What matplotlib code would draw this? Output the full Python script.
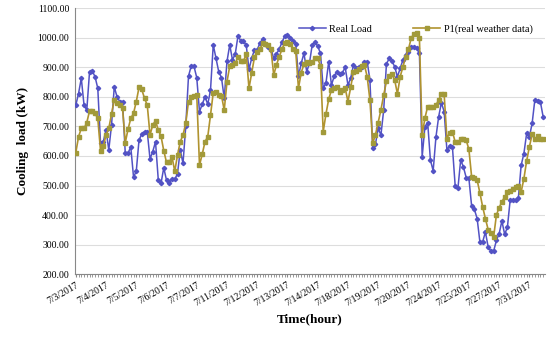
import matplotlib.pyplot as plt
from matplotlib.ticker import FormatStrFormatter

# 9 hourly points per working day, 19 days
real_load = [
    772, 811, 863, 772, 755, 885, 888, 868, 829,
    643, 648, 688, 620, 705, 834, 800, 784, 784,
    609, 609, 631, 529, 548, 654, 674, 682, 682,
    590, 615, 648, 520, 507, 560, 518, 509, 521,
    521, 540, 620, 575, 700, 870, 905, 903, 865,
    750, 775, 800, 775, 822, 976, 931, 885, 865,
    795, 920, 976, 925, 945, 1006, 990, 988, 975,
    893, 931, 959, 960, 982, 995, 978, 970, 960,
    931, 945, 961, 985, 1005, 1008, 1000, 990, 980,
    870, 913, 948, 885, 914, 976, 984, 972, 947,
    829, 846, 919, 840, 870, 885, 877, 882, 900,
    840, 863, 908, 897, 902, 902, 919, 919, 857,
    626, 640, 693, 671, 755, 911, 930, 922, 902,
    868, 897, 925, 942, 951, 970, 970, 964, 947,
    597, 699, 713, 586, 550, 663, 733, 780, 750,
    620, 635, 631, 500, 490, 586, 563, 527, 524,
    430, 419, 388, 309, 309, 343, 292, 278, 278,
    314, 337, 380, 335, 358, 450, 452, 452, 459,
    568, 608, 676, 665, 710, 791, 786, 783, 733,
]
p1_weather = [
    611, 665, 693, 693, 713, 752, 752, 744, 727,
    618, 632, 671, 693, 742, 791, 780, 772, 761,
    645, 690, 727, 744, 784, 832, 825, 795, 772,
    671, 705, 719, 688, 667, 618, 578, 578, 597,
    548, 603, 648, 671, 710, 784, 798, 802, 806,
    569, 606, 648, 665, 738, 814, 818, 806, 804,
    755, 851, 904, 908, 913, 934, 921, 921, 945,
    829, 882, 934, 953, 961, 983, 979, 975, 961,
    874, 908, 936, 961, 983, 987, 978, 961, 955,
    829, 882, 910, 919, 914, 919, 930, 930, 905,
    682, 742, 792, 823, 829, 832, 818, 823, 829,
    784, 832, 885, 888, 894, 906, 908, 868, 789,
    643, 671, 713, 756, 806, 852, 871, 877, 857,
    810, 868, 902, 934, 961, 998, 1013, 1015, 998,
    671, 728, 767, 767, 767, 772, 789, 810, 808,
    659, 679, 682, 648, 648, 656, 656, 654, 622,
    529, 524, 518, 475, 428, 388, 351, 338, 326,
    400, 425, 445, 461, 478, 481, 489, 495, 500,
    478, 523, 583, 631, 673, 659, 667, 656, 659,
]
date_labels = ['7/3/2017', '7/4/2017', '7/5/2017', '7/6/2017', '7/7/2017',
               '7/11/2017', '7/12/2017', '7/13/2017', '7/14/2017', '7/18/2017',
               '7/19/2017', '7/20/2017', '7/24/2017', '7/25/2017', '7/27/2017',
               '7/31/2017']

plt.rcParams['font.family'] = ['Liberation Serif', 'DejaVu Serif']

fig = plt.figure(figsize=(5.5, 3.41), dpi=100)
ax = fig.add_axes([0.136, 0.196, 0.855, 0.78])

x = list(range(len(real_load)))
ax.plot(x, real_load, color='#5252C4', lw=1.1, marker='D', ms=2.2,
        label='Real Load', zorder=3)
ax.plot(x, p1_weather, color='#B0932F', lw=1.2, marker='s', ms=3.3,
        mfc='#A29A3A', mec='#A29A3A', label='P1(real weather data)', zorder=4)

ax.set_ylim(200, 1100)
ax.set_yticks(range(200, 1101, 100))
ax.yaxis.set_major_formatter(FormatStrFormatter('%.2f'))
ax.set_xlim(-0.36, 170.7)
ax.set_xticks(range(0, len(x), 11))
ax.set_xticklabels(date_labels, rotation=30, ha='right', rotation_mode='anchor')
ax.set_xticks(x, minor=True)
ax.tick_params(axis='x', which='both', length=2.5, color='#888888', labelsize=7, pad=2)
ax.tick_params(axis='y', length=0, labelsize=7, pad=4)
ax.grid(axis='y', color='#DDDDDD', lw=0.8)
ax.set_axisbelow(True)
for s in ['top', 'right']:
    ax.spines[s].set_visible(False)
ax.spines['left'].set_color('#888888')
ax.spines['bottom'].set_color('#888888')

ax.set_ylabel('Cooling  load (kW)', fontsize=9.5, fontweight='bold', labelpad=6)
ax.set_xlabel('Time(hour)', fontsize=9.5, fontweight='bold', labelpad=4)

ax.legend(loc='upper right', bbox_to_anchor=(0.993, 0.975), ncol=2, frameon=False,
          fontsize=7.5, columnspacing=4.0, handlelength=2.6, handletextpad=0.3)

fig.savefig('out.png', dpi=100)
